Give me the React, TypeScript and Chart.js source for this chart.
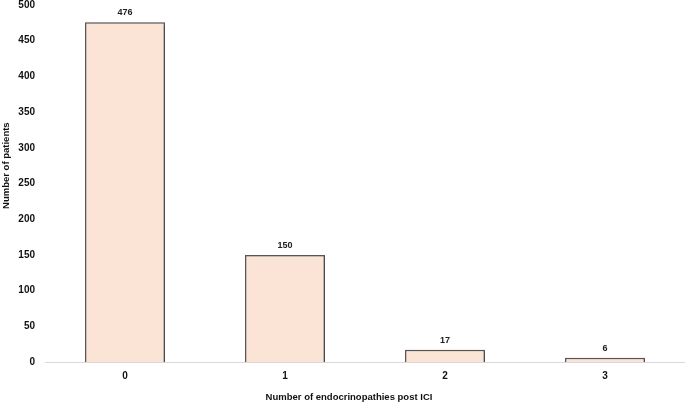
import React, { useEffect, useRef } from "react";
import { Chart, registerables } from "chart.js";

Chart.register(...registerables);

const categories = ["0", "1", "2", "3"];
const patients = [476, 150, 17, 6];
const yTicks = [0, 50, 100, 150, 200, 250, 300, 350, 400, 450, 500];
const xTitle = "Number of endocrinopathies post ICI";
const yTitle = "Number of patients";

const FONT = "'Liberation Sans', Arial, sans-serif";

const shadowPlugin = {
  id: "barShadow",
  beforeDatasetsDraw(chart: any) {
    const ctx = chart.ctx;
    ctx.save();
    ctx.shadowColor = "rgba(0,0,0,0.3)";
    ctx.shadowBlur = 3;
    ctx.shadowOffsetX = 1.5;
    ctx.shadowOffsetY = 1;
  },
  afterDatasetsDraw(chart: any) {
    chart.ctx.restore();
  },
};

const labelPlugin = {
  id: "barLabels",
  afterDatasetsDraw(chart: any) {
    const ctx = chart.ctx;
    const meta = chart.getDatasetMeta(0);
    ctx.save();
    ctx.font = `bold 9px ${FONT}`;
    ctx.fillStyle = "#222";
    ctx.textAlign = "center";
    ctx.textBaseline = "bottom";
    meta.data.forEach((bar: any, i: number) => {
      ctx.fillText(String(patients[i]), bar.x, bar.y - 5);
    });
    ctx.restore();
  },
};

const titlePlugin = {
  id: "axisTitles",
  afterDraw(chart: any) {
    const ctx = chart.ctx;
    const a = chart.chartArea;
    ctx.save();
    ctx.font = `bold 9.5px ${FONT}`;
    ctx.fillStyle = "#111";
    ctx.textAlign = "center";
    ctx.textBaseline = "middle";
    ctx.fillText(xTitle, a.left + (a.right - a.left) * 0.475, a.bottom + 35);
    ctx.translate(6, a.top + (a.bottom - a.top) * 0.45);
    ctx.rotate(-Math.PI / 2);
    ctx.fillText(yTitle, 0, 0);
    ctx.restore();
  },
};

export default function App() {
  const ref = useRef<HTMLCanvasElement>(null);
  useEffect(() => {
    document.body.style.margin = "0";
    const chart = new Chart(ref.current!, {
      type: "bar",
      data: {
        labels: categories,
        datasets: [
          {
            data: patients,
            backgroundColor: "#FBE3D6",
            borderColor: "#5a5a5a",
            borderWidth: 1.5,
            borderSkipped: "bottom",
            barPercentage: 0.5,
            categoryPercentage: 1,
          },
        ],
      },
      options: {
        animation: false,
        responsive: false,
        layout: { padding: { top: 0, right: 0, left: 0, bottom: 0 } },
        plugins: { legend: { display: false }, tooltip: { enabled: false } },
        scales: {
          x: {
            grid: { display: false, drawTicks: false },
            border: { display: true, color: "#d9d9d9", width: 1 },
            ticks: { color: "#111", font: { family: FONT, size: 10, weight: "bold" }, padding: 8 },
            afterFit: (axis: any) => {
              axis.height = 42;
            },
          },
          y: {
            min: 0,
            max: 500,
            afterBuildTicks: (axis: any) => {
              axis.ticks = yTicks.map((v) => ({ value: v }));
            },
            afterFit: (axis: any) => {
              axis.paddingTop = 5;
              axis.width = 45;
            },
            grid: { display: false, drawTicks: false },
            border: { display: false },
            ticks: { color: "#111", font: { family: FONT, size: 10, weight: "bold" }, padding: 10 },
          },
        },
      },
      plugins: [shadowPlugin, labelPlugin, titlePlugin],
    });
    return () => chart.destroy();
  }, []);
  return (
    <div style={{ width: 685, height: 404 }}>
      <canvas ref={ref} width={685} height={404} />
    </div>
  );
}
